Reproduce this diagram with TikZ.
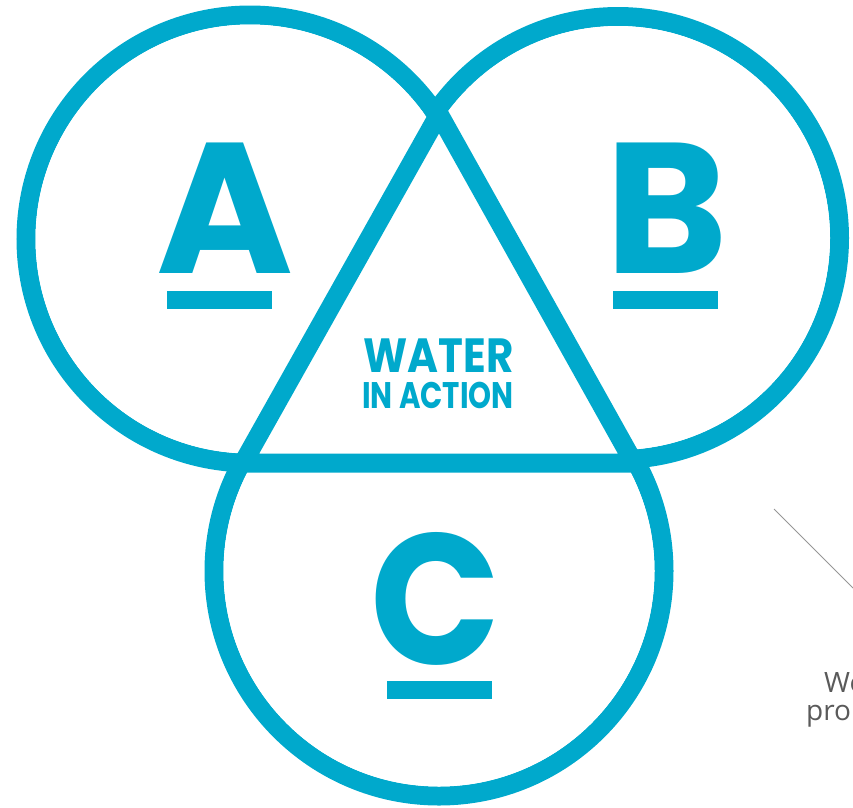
\documentclass[tikz,border=0pt]{standalone}
\usepackage{graphicx}
\usepackage{fontspec}
\setmainfont{Poppins}
\newfontfamily\graytext{Open Sans}
\definecolor{wblue}{RGB}{0,169,204}
\definecolor{wgray}{RGB}{150,150,150}
\definecolor{wtext}{RGB}{90,90,90}
\tikzset{
  ring/.style={circle, draw=wblue, line width=19pt, inner sep=0pt, minimum size=#1},
  bigletter/.style={text=wblue, inner sep=0pt, anchor=base, font=\fontsize{186}{186}\selectfont\bfseries},
  bar/.style={fill=wblue, draw=none},
  midtext/.style={text=wblue, inner sep=0pt, anchor=base, text depth=0pt},
  sidetext/.style={text=wtext, inner sep=0pt, anchor=base west, font=\graytext\fontsize{28}{30}\selectfont}
}
\begin{document}
\begin{tikzpicture}[x=1pt,y=-1pt]
\useasboundingbox (0,0) rectangle (853,807);
% circle outlines
\node[ring=448pt] (cA) at (250,239) {};
\node[ring=443pt] (cB) at (618,238) {};
\node[ring=450pt] (cC) at (439,571) {};
% hide the arcs that lie inside another circle
\fill[white] (cA.center) circle (214.5pt);
\fill[white] (cB.center) circle (212pt);
\fill[white] (cC.center) circle (215.5pt);
% central triangle
\coordinate (t1) at (439,114);
\coordinate (t2) at (243,463);
\coordinate (t3) at (634,463);
\draw[draw=wblue, fill=white, line width=19pt] (t1) -- (t2) -- (t3) -- cycle;
% letters and bars
\node[bigletter] (lA) at (225,273) {A};
\node[bigletter] (lB) at (666.5,273) {B};
\node[bigletter] (lC) at (435.5,664) {\scalebox{0.92}[1]{C}};
\fill[bar] (167,291) rectangle (272,309);
\fill[bar] (613,291) rectangle (718,309);
\fill[bar] (387,681) rectangle (492,699);
\node[midtext, text height=34pt, font=\fontsize{48}{48}\selectfont\bfseries] (w1) at (438.5,372) {\scalebox{0.875}[1]{WATER}};
\node[midtext, text height=26pt, font=\fontsize{37}{37}\selectfont\bfseries] (w2) at (438,408) {\scalebox{0.79}[1]{IN ACTION}};
% side elements
\coordinate (g1) at (774,509);
\coordinate (g2) at (853,588);
\draw[wgray, line width=1pt] (g1) -- (g2);
\node[sidetext] (s1) at (824,692) {We};
\node[sidetext] (s2) at (806,720) {pro};
\end{tikzpicture}
\end{document}
